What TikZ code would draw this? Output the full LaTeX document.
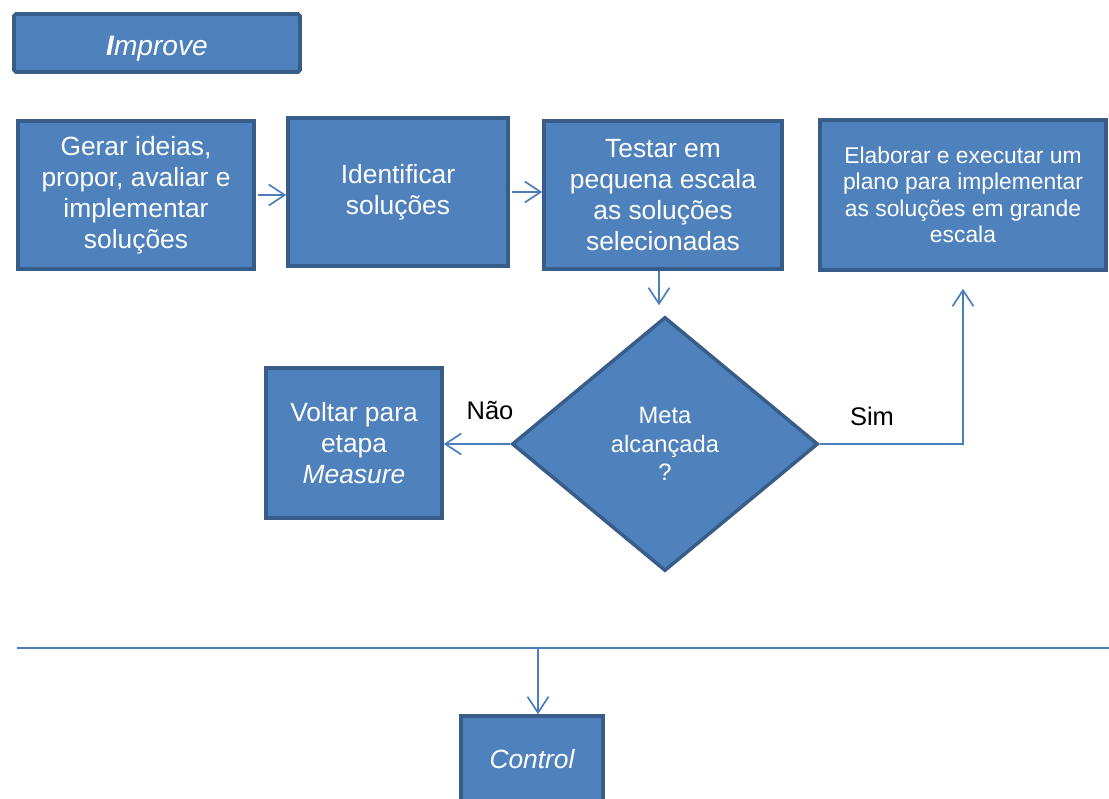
\documentclass[tikz,border=0pt]{standalone}
\usepackage{fontspec}
\setmainfont{Liberation Sans}
\usetikzlibrary{arrows.meta,shapes.geometric,calc}
\definecolor{boxfill}{HTML}{4F81BD}
\definecolor{boxedge}{HTML}{385D8A}
\definecolor{linkblue}{HTML}{4A7EBB}
\begin{document}
\begin{tikzpicture}[x=0.02cm,y=-0.02cm,
  stepbox/.style={rectangle,draw=boxedge,fill=boxfill,line width=2pt,text=white,
    align=center,inner sep=0pt,font=\fontsize{15}{17.6}\selectfont},
  decision/.style={diamond,draw=boxedge,fill=boxfill,line width=2pt,text=white,
    align=center,inner sep=0pt,font=\fontsize{13.5}{16.4}\selectfont},
  link/.style={draw=linkblue,line width=0.95pt,
    -{Straight Barb[length=3.2mm,width=4.2mm]}},
  lbl/.style={text=black,font=\fontsize{14.5}{17}\selectfont,inner sep=0pt}]
\useasboundingbox (0,0) rectangle (1109,798);

% phase header
\node[stepbox,minimum width=0.02cm*286,minimum height=0.02cm*58,rounded corners=1pt,
  font=\fontsize{16}{19}\selectfont\itshape] (improve) at (157,43)
  {\raisebox{-0.25cm}[0pt][0pt]{{\bfseries I}mprove}};

% main row of steps
\node[stepbox,minimum width=0.02cm*236,minimum height=0.02cm*148] (b1) at (136,195)
  {Gerar ideias,\\propor, avaliar e\\implementar\\soluções};
\node[stepbox,minimum width=0.02cm*220,minimum height=0.02cm*148] (b2) at (398,192)
  {Identificar\\soluções};
\node[stepbox,minimum width=0.02cm*238,minimum height=0.02cm*148] (b3) at (663,195)
  {Testar em\\pequena escala\\as soluções\\selecionadas};
\node[stepbox,minimum width=0.02cm*286,minimum height=0.02cm*150,
  font=\fontsize{13}{15}\selectfont] (b4) at (963,195)
  {Elaborar e executar um\\plano para implementar\\as soluções em grande\\escala};

% decision and fallback
\node[decision,minimum width=0.02cm*306,minimum height=0.02cm*254] (d) at (665,444)
  {Meta\\alcançada\\?};
\node[stepbox,minimum width=0.02cm*176,minimum height=0.02cm*150] (v) at (354,443)
  {Voltar para\\etapa\\\textit{Measure}};

% next phase
\node[stepbox,minimum width=0.02cm*142,minimum height=0.02cm*86,
  font=\fontsize{15}{17.6}\selectfont\itshape] (c) at (532,759) {Control};

% connectors
\draw[link,shorten <=1pt] (b1.east) -- (b1.east -| b2.west);
\draw[link,shorten <=1pt] (b2.east) -- (b2.east -| b3.west);
\draw[link,shorten >=0.2cm] ([xshift=-0.08cm]b3.south) -- ([xshift=-0.08cm]b3.south |- d.north);
\draw[link] (d.west) -- (d.west -| v.east);
\draw[link,shorten >=0.34cm] (d.east) -| (b4.south);

% phase separator
\coordinate (sepL) at (17,648);
\coordinate (sepR) at (1109,648);
\coordinate (sepM) at (538,648);
\draw[draw=linkblue,line width=1.2pt] (sepL) -- (sepR);
\draw[link] (sepM) -- (sepM |- c.north);

% branch labels
\node[lbl] (nao) at (490,410) {Não};
\node[lbl] (sim) at (872,416) {Sim};
\end{tikzpicture}
\end{document}
